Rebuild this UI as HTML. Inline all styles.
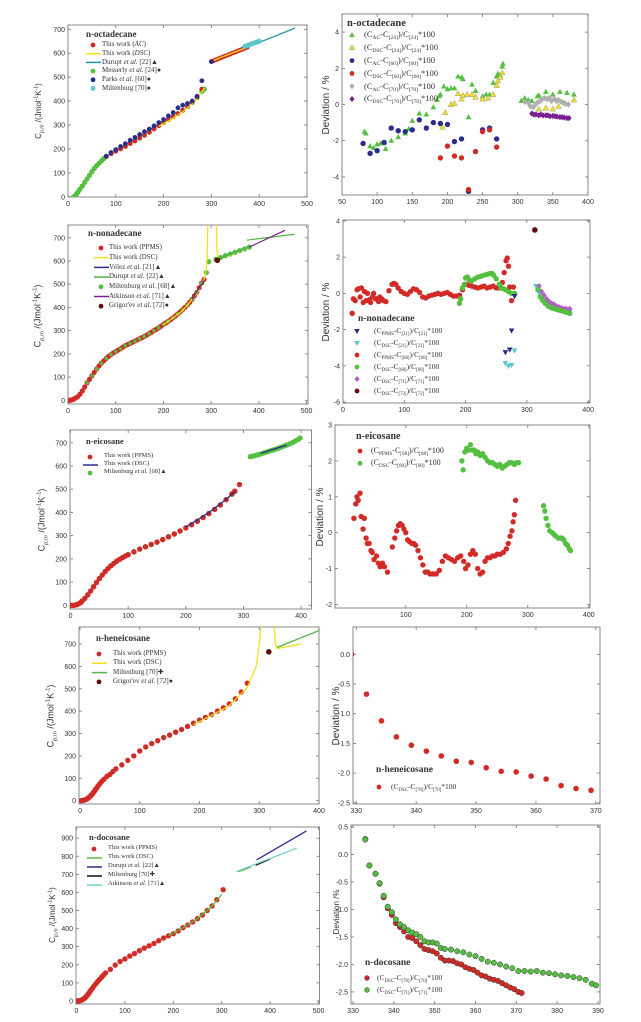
<!DOCTYPE html>
<html><head><meta charset="utf-8">
<style>
body{margin:0;background:#fff;}
#wrap{position:relative;width:641px;height:1022px;overflow:hidden;background:#fff;font-family:"Liberation Sans",sans-serif;}
.lg{position:absolute;font-family:"Liberation Serif",serif;color:#333;white-space:nowrap;line-height:1;}
.lg sub{font-size:65%;vertical-align:-2px;}
.ttl{position:absolute;font-family:"Liberation Serif",serif;font-weight:bold;color:#333;white-space:nowrap;line-height:1;}
.yl{position:absolute;font-family:"Liberation Sans",sans-serif;color:#333;white-space:nowrap;transform:translate(-50%,-50%) rotate(-90deg);line-height:1;}
.yl sub{font-size:65%;}
.yl sup{font-size:65%;}
</style></head>
<body>
<div id="wrap">
<svg id="svg" width="641" height="1022" viewBox="0 0 641 1022"></svg>
</div>
<script>
// ===== DATA =====
// Panel 1 left: n-octadecane Cp
const p1_mess = [[12,0],[15,5],[18,12],[21,20],[25,32],[30,45],[35,60],[40,75],[45,90],[50,105],[55,118],[60,130],[65,140],[70,150],[75,160],[80,168],[90,180],[100,192],[110,202],[120,212],[130,224],[140,235],[150,246],[160,258],[170,270],[180,285],[190,298],[200,312],[210,323],[220,335],[230,348],[240,362],[250,378],[260,395],[270,415],[280,440],[285,450]];
const p1_ac = [[80,168],[90,180],[100,190],[110,200],[120,210],[130,222],[140,233],[150,245],[160,257],[170,270],[180,283],[190,297],[200,310],[210,322],[220,334],[230,347],[240,361],[250,377],[260,394],[270,415],[280,450],[300,565],[305,569],[310,573],[315,577],[320,581],[325,585],[330,589],[335,593],[340,597],[345,601],[350,605],[355,609],[360,613],[365,617],[370,621],[375,625]];
const p1_dsc1 = [[190,295],[200,305],[220,328],[240,355],[260,388],[270,410],[280,438],[285,455]];
const p1_dsc2 = [[305,570],[340,598],[375,625]];
const p1_durupt = [[375,625],[475,705]];
const p1_parks = [[80,170],[90,185],[100,197],[110,210],[120,222],[130,236],[140,248],[150,260],[160,272],[170,283],[180,296],[190,310],[200,323],[210,338],[220,352],[230,372],[240,383],[250,390],[260,400],[270,420],[280,485],[300,565]];
const p1_milt = [[370,628],[375,632],[380,636],[385,640],[390,643],[395,647],[400,650]];
// Panel 1 right: deviations
const d1_g = [[82,-1.5],[84,-1.6],[90,-2.3],[95,-2.4],[100,-2.2],[105,-2.15],[110,-2.1],[112,-2.45],[120,-2.0],[130,-1.8],[140,-1.6],[145,-1.35],[150,-0.9],[160,-0.5],[170,-0.55],[180,-0.15],[185,0.25],[188,0.45],[190,0.55],[195,1.0],[200,0.85],[205,0.9],[210,0.9],[215,1.55],[220,1.5],[222,1.4],[230,-0.7],[235,1.1],[240,0.75],[250,0.45],[255,0.55],[260,0.55],[265,1.2],[270,1.55],[272,1.7],[275,1.6],[278,2.1],[279,2.25],[305,0.2],[310,0.35],[315,0.25],[320,0.2],[328,0.45],[330,0.5],[340,0.7],[350,0.55],[360,0.7],[370,0.65],[380,0.55]];
const d1_y = [[193,-1.25],[197,-0.45],[205,0.0],[210,0.05],[215,0.6],[220,0.3],[222,0.5],[228,0.55],[235,0.55],[240,0.4],[250,0.3],[258,0.35],[265,0.55],[270,1.05],[272,1.3],[275,1.5],[278,1.75],[330,-0.25],[340,-0.2],[350,-0.25],[358,-0.1],[380,0.25]];
const d1_b = [[80,-2.15],[90,-2.7],[100,-2.55],[110,-2.1],[120,-1.3],[130,-1.45],[140,-1.5],[150,-1.4],[160,-0.85],[170,-1.3],[180,-1.0],[190,-1.05],[200,-1.1],[210,-2.05],[220,-1.9],[230,-4.8],[250,-1.4],[260,-1.3],[270,-1.9]];
const d1_r = [[190,-2.95],[200,-2.3],[210,-2.85],[220,-2.95],[230,-4.7],[240,-2.6],[250,-1.5],[260,-1.4],[270,-2.35]];
const d1_gr = [[310,0.15],[315,0.1],[318,-0.1],[322,-0.15],[325,0.0],[328,0.1],[332,0.2],[335,0.3],[338,0.35],[342,0.3],[345,0.35],[348,0.2],[352,0.3],[355,0.2],[358,0.25],[362,0.15],[365,0.1],[368,0.05],[372,0.0]];
const d1_p = [[320,-0.5],[323,-0.55],[326,-0.55],[330,-0.6],[333,-0.55],[336,-0.6],[340,-0.6],[343,-0.6],[346,-0.65],[350,-0.63],[353,-0.65],[356,-0.67],[360,-0.7],[363,-0.7],[366,-0.72],[370,-0.75],[373,-0.75]];
// Panel 2 left: n-nonadecane
const p2_ppms = [[3,0],[5,0],[8,2],[10,3],[13,6],[16,10],[20,15],[25,26],[30,40],[35,57],[40,75],[45,90],[50,105],[55,120],[60,135],[65,148],[70,160],[75,170],[80,180],[85,189],[90,197],[95,204],[100,210],[105,216],[110,222],[115,229],[120,235],[125,240],[130,245],[135,250],[140,255],[145,260],[150,265],[155,270],[160,275],[165,281],[170,287],[175,293],[180,300],[185,306],[190,312],[195,319],[200,327],[205,333],[210,340],[215,347],[220,355],[225,363],[230,372],[235,381],[240,390],[245,400],[250,410],[255,422],[260,435],[265,450],[270,465],[275,485],[280,505],[285,520]];
const p2_dsc1 = [[200,325],[240,385],[270,460],[285,520],[290,560],[292,650],[293,760]];
const p2_dsc2 = [[311,760],[312,650],[315,610],[340,625],[380,660]];
const p2_velez = [[260,435],[285,515]];
const p2_dur1 = [[310,605],[380,662]];
const p2_dur2 = [[375,690],[475,715]];
const p2_milt = [[290,550],[295,597],[310,607],[320,615],[330,623],[340,630],[350,637],[360,645],[370,652],[380,660]];
const p2_atk = [[380,660],[455,732]];
const p2_grig = [[313,603]];
// Panel 2 right
const d2_ppms = [[15,-1.1],[17,-0.3],[20,-0.4],[23,0.2],[25,0.25],[28,-0.2],[30,0.3],[33,-0.5],[35,0.1],[38,-0.4],[40,0.0],[43,-0.35],[45,-0.5],[48,-0.2],[50,0.0],[53,-0.3],[55,-0.3],[58,-0.45],[60,-0.2],[63,-0.3],[66,-0.4],[70,-0.45],[75,0.15],[80,0.5],[83,0.55],[86,0.5],[90,0.3],[95,0.1],[100,0.0],[105,-0.05],[110,0.1],[115,0.25],[120,0.2],[125,0.05],[130,-0.2],[135,-0.25],[140,-0.15],[145,-0.1],[150,-0.05],[155,0.0],[160,-0.05],[165,0.0],[170,0.05],[175,-0.05],[180,-0.15],[185,-0.15],[190,-0.1],[195,0.2],[200,0.5],[205,0.45],[210,0.4],[215,0.35],[220,0.3],[225,0.35],[230,0.4],[235,0.3],[240,0.35],[245,0.4],[250,0.3],[255,0.3],[260,0.6],[263,1.15],[266,1.8],[268,1.95],[270,1.5],[272,0.35],[275,-0.4],[278,0.35]];
const d2_dsc68 = [[190,-0.55],[192,-0.3],[195,0.3],[198,0.5],[200,0.85],[203,0.9],[206,0.75],[210,0.7],[215,0.8],[220,0.9],[225,0.95],[230,1.0],[235,1.05],[240,1.1],[243,1.1],[246,1.0],[250,0.8],[255,0.5],[258,0.3],[262,0.25],[265,0.2],[270,0.1],[275,0.0],[280,0.0],[318,0.2],[322,-0.2],[326,-0.4],[330,-0.55],[335,-0.7],[340,-0.8],[345,-0.85],[350,-0.9],[355,-0.95],[360,-1.0],[365,-1.05],[370,-1.1]];
const d2_ppms21 = [[265,-3.25],[272,-3.1],[275,-2.05],[280,-0.15]];
const d2_dsc21 = [[265,-3.85],[270,-4.0],[275,-3.95],[280,-3.15],[315,0.4],[320,0.0],[325,-0.3],[330,-0.5],[335,-0.6],[340,-0.7],[345,-0.8],[350,-0.85],[355,-0.9],[360,-0.9],[365,-0.95],[370,-1.0]];
const d2_dsc71 = [[320,0.4],[324,0.1],[328,-0.1],[332,-0.3],[336,-0.45],[340,-0.55],[344,-0.6],[348,-0.7],[352,-0.75],[356,-0.8],[360,-0.85],[364,-0.85],[368,-0.9],[370,-0.85]];
const d2_dsc72 = [[313,3.5]];
// Panel 3 left: n-eicosane
const p3_ppms = [[2,0],[5,0],[8,1],[10,2],[13,5],[15,8],[18,12],[20,18],[25,30],[30,45],[35,62],[40,80],[45,98],[50,115],[55,130],[60,145],[65,158],[70,170],[75,180],[80,190],[85,198],[90,205],[95,212],[100,218],[110,230],[120,242],[130,252],[140,262],[150,272],[160,283],[170,295],[180,307],[190,320],[200,333],[210,347],[220,362],[230,378],[240,395],[250,413],[260,432],[270,455],[280,480],[285,492],[293,520]];
const p3_dsc1 = [[200,338],[220,367],[240,400],[260,437],[280,478],[285,490]];
const p3_dsc2 = [[330,655],[375,690]];
const p3_milt = [[10,2],[20,18],[30,45],[40,80],[50,115],[60,145],[70,170],[80,190],[90,205],[100,218],[110,230],[120,242],[130,252],[140,262],[150,272],[160,283],[170,295],[180,307],[190,320],[200,333],[210,347],[220,362],[230,378],[240,395],[250,413],[260,432],[270,455],[280,478],[285,490],[312,640],[316,642],[320,645],[325,648],[330,652],[335,656],[340,660],[345,664],[350,668],[355,672],[360,676],[365,681],[370,686],[375,690],[380,695],[385,701],[390,708],[395,714],[398,720]];
// Panel 3 right
const d3_ppms = [[15,0.4],[18,0.8],[20,1.0],[22,0.9],[25,1.1],[27,0.45],[30,0.1],[32,0.4],[35,-0.15],[37,-0.3],[40,-0.3],[43,-0.5],[45,-0.55],[48,-0.75],[52,-0.65],[55,-0.85],[58,-0.95],[62,-0.85],[65,-0.95],[70,-1.1],[78,-0.4],[82,-0.15],[85,0.05],[88,0.2],[91,0.25],[94,0.2],[97,0.1],[100,0.0],[103,-0.2],[106,-0.25],[110,-0.3],[113,-0.3],[116,-0.35],[120,-0.5],[124,-0.7],[128,-0.9],[132,-1.1],[136,-1.1],[140,-1.15],[145,-1.15],[150,-1.15],[155,-1.05],[160,-0.8],[165,-0.65],[170,-0.7],[175,-0.75],[180,-0.8],[185,-0.7],[190,-0.65],[195,-0.8],[198,-1.0],[202,-0.9],[206,-0.6],[210,-0.5],[214,-0.6],[218,-1.0],[222,-1.15],[226,-1.1],[230,-0.8],[234,-0.7],[238,-0.7],[242,-0.65],[246,-0.65],[250,-0.6],[255,-0.6],[260,-0.55],[265,-0.45],[268,-0.3],[271,-0.1],[274,0.05],[276,0.3],[278,0.5],[280,0.9]];
const d3_dsc = [[192,2.0],[194,1.75],[197,2.25],[200,2.35],[203,2.3],[206,2.45],[209,2.3],[212,2.3],[215,2.2],[218,2.25],[222,2.15],[226,2.2],[230,2.1],[234,2.0],[238,1.95],[242,1.95],[246,1.9],[250,1.85],[254,1.9],[258,1.8],[262,1.85],[266,1.9],[270,1.95],[274,1.95],[278,1.9],[282,1.95],[285,1.95],[326,0.75],[328,0.6],[330,0.4],[333,0.2],[336,0.05],[340,0.0],[343,-0.05],[346,-0.1],[350,-0.15],[353,-0.15],[356,-0.15],[359,-0.2],[362,-0.3],[365,-0.35],[368,-0.45],[370,-0.5]];
// Panel 4 left: n-heneicosane
const p4_ppms = [[2,0],[4,1],[6,2],[8,3],[10,5],[12,8],[14,12],[16,17],[18,22],[20,28],[22,35],[24,42],[26,50],[28,57],[30,65],[33,75],[36,85],[40,95],[45,108],[50,117],[55,130],[60,142],[70,160],[80,180],[90,200],[100,222],[110,240],[120,255],[130,268],[140,282],[150,293],[160,306],[170,318],[180,332],[190,346],[200,360],[210,372],[220,385],[230,400],[240,415],[250,432],[260,455],[270,485],[280,525]];
const p4_dsc1 = [[190,340],[220,380],[250,425],[280,505],[295,600],[300,700],[303,800]];
const p4_dsc2 = [[325,800],[327,700],[330,680],[370,700]];
const p4_milt = [[330,685],[400,760]];
const p4_grig = [[316,665]];
// Panel 4 right
const d4_dsc70 = [[329.2,0.0],[331.7,-0.67],[334.2,-1.12],[336.7,-1.39],[339.2,-1.53],[341.7,-1.63],[344.2,-1.71],[346.7,-1.8],[349.2,-1.82],[351.7,-1.91],[354.2,-1.97],[356.7,-1.98],[359.2,-2.05],[361.7,-2.1],[364.2,-2.21],[366.7,-2.26],[369.2,-2.29]];
// Panel 5 left: n-docosane
const p5_ppms = [[2,0],[4,0],[6,1],[8,2],[10,4],[12,7],[14,10],[16,14],[18,18],[20,24],[22,30],[24,37],[26,44],[28,52],[30,60],[33,70],[36,82],[40,95],[44,108],[48,120],[52,132],[56,143],[60,155],[70,175],[80,198],[90,218],[100,232],[110,248],[120,262],[130,278],[140,292],[150,305],[160,318],[170,333],[180,348],[190,360],[200,372],[210,387],[220,405],[230,420],[240,437],[250,455],[260,475],[270,500],[280,525],[290,560],[303,615]];
const p5_dsc1 = [[190,360],[220,405],[250,455],[280,525],[300,590]];
const p5_dsc2 = [[335,715],[360,740]];
const p5_dur = [[372,780],[475,940]];
const p5_milt = [[370,750],[400,785]];
const p5_atk = [[330,715],[455,845]];
// Panel 5 right
const d5_dsc70 = [[333,0.28],[334,-0.2],[335.5,-0.35],[336.5,-0.53],[337.5,-0.78],[338.5,-0.98],[339.5,-1.1],[340.5,-1.25],[341.5,-1.32],[342.5,-1.4],[343.5,-1.5],[344.5,-1.52],[345.5,-1.58],[346.5,-1.65],[347.5,-1.72],[348.5,-1.74],[349.5,-1.76],[350.5,-1.8],[351.5,-1.88],[352.5,-1.93],[353.5,-1.93],[354.5,-1.94],[355.5,-1.98],[356.5,-2.0],[357.5,-2.05],[358.5,-2.08],[359.5,-2.1],[360.5,-2.15],[361.5,-2.2],[362.5,-2.22],[363.5,-2.26],[364.5,-2.28],[365.5,-2.3],[366.5,-2.34],[367.5,-2.38],[368.5,-2.42],[369.5,-2.45],[370.5,-2.5],[371.3,-2.52]];
const d5_dsc71 = [[333,0.27],[334,-0.2],[335.5,-0.35],[336.5,-0.52],[337.5,-0.75],[338.5,-0.95],[339.5,-1.05],[340.5,-1.18],[341.5,-1.27],[342.5,-1.32],[343.5,-1.38],[344.5,-1.42],[345.5,-1.45],[346.5,-1.5],[347.5,-1.58],[348.5,-1.6],[349.5,-1.6],[350.5,-1.62],[351.5,-1.7],[352.5,-1.72],[354,-1.73],[355.5,-1.76],[357,-1.78],[358.5,-1.82],[360,-1.85],[361.5,-1.9],[363,-1.95],[364.5,-1.97],[366,-2.0],[367.5,-2.04],[369,-2.07],[370.5,-2.12],[372,-2.12],[373.5,-2.13],[375,-2.12],[376.5,-2.15],[378,-2.16],[379.5,-2.18],[381,-2.2],[382.5,-2.21],[384,-2.23],[385.5,-2.25],[387,-2.28],[388.5,-2.35],[389.5,-2.38]];
// Tick labels
const ticksCp500 = [0,100,200,300,400,500];
const ticksCp400 = [0,100,200,300,400];
const ticksY700 = [0,100,200,300,400,500,600,700];
const ticksY900 = [0,100,200,300,400,500,600,700,800,900];
const ticksD1x = [50,100,150,200,250,300,350,400];
const ticksD1y = [-4,-2,0,2,4];
const ticksD2y = [-6,-4,-2,0,2,4];
const ticksD3x = [100,200,300,400];
const ticksD3y = [-2,-1,0,1,2,3];
const ticksD4x = [330,340,350,360,370];
const ticksD4y = [0.0,-0.5,-1.0,-1.5,-2.0,-2.5];
const ticksD5x = [330,340,350,360,370,380,390];
const ticksD5y = [0.5,0.0,-0.5,-1.0,-1.5,-2.0,-2.5];

// ===== RENDERING =====
const NS='http://www.w3.org/2000/svg';
const svg=document.getElementById('svg');
const wrap=document.getElementById('wrap');
const C={red:'#d22a26',green:'#4fb848',blue:'#2a2d8c',yellow:'#f4e11c',teal:'#1b93a0',cyan:'#5ec8c8',purple:'#7a2090',dred:'#5e0e0e',grey:'#b0b0b0',black:'#111',lime:'#55c040',lteal:'#6fd0c0'};
function mk(tag,attrs,parent){const e=document.createElementNS(NS,tag);for(const k in attrs)e.setAttribute(k,attrs[k]);(parent||svg).appendChild(e);return e;}
function fmt(v,dec){return dec?v.toFixed(dec):String(v);}
function panel(name,box,xd,yd,xt,yt,dec){
  const [L,T,R,B]=box;
  const g=mk('g',{});
  
  
  const sx=v=>L+(v-xd[0])/(xd[1]-xd[0])*(R-L);
  const sy=v=>B-(v-yd[0])/(yd[1]-yd[0])*(B-T);
  const fr=mk('rect',{x:L,y:T,width:R-L,height:B-T,fill:'none',stroke:'#8a8a8a','stroke-width':1},g);
  
  
  xt.forEach(v=>{const x=sx(v);
    mk('line',{x1:x,y1:B,x2:x,y2:B-3,stroke:'#777','stroke-width':0.8},g);
    mk('line',{x1:x,y1:T,x2:x,y2:T+3,stroke:'#777','stroke-width':0.8},g);
    const t=mk('text',{x:x,y:B+9,'font-size':7,'text-anchor':'middle',fill:'#333','font-family':'Liberation Sans'},g);
    t.textContent=String(v);
    
    
  });
  yt.forEach(v=>{const y=sy(v);
    mk('line',{x1:L,y1:y,x2:L+3,y2:y,stroke:'#777','stroke-width':0.8},g);
    mk('line',{x1:R,y1:y,x2:R-3,y2:y,stroke:'#777','stroke-width':0.8},g);
    const t=mk('text',{x:L-3,y:y+2.5,'font-size':7,'text-anchor':'end',fill:'#333','font-family':'Liberation Sans'},g);
    t.textContent=fmt(v,dec);
    
    
  });
  const cp='clip_'+name;
  const cpe=mk('clipPath',{id:cp},g);mk('rect',{x:L,y:T,width:R-L,height:B-T},cpe);
  const dg=mk('g',{'clip-path':'url(#'+cp+')'},g);
  return {
    line(data,color,w,sname){const p=mk('polyline',{points:data.map(d=>sx(d[0])+','+sy(d[1])).join(' '),fill:'none',stroke:color,'stroke-width':w||1.4},dg);
      
      },
    pts(data,color,shape,r,sname,stroke){const sg=mk('g',{},dg);
      
      
      data.forEach(d=>{const x=sx(d[0]),y=sy(d[1]);let e;
        const st=stroke||'none';
        if(shape==='c')e=mk('circle',{cx:x,cy:y,r:r,fill:color,stroke:st,'stroke-width':0.5},sg);
        else if(shape==='t')e=mk('polygon',{points:`${x},${y-r*1.2} ${x-r*1.1},${y+r*0.8} ${x+r*1.1},${y+r*0.8}`,fill:color,stroke:st,'stroke-width':0.5},sg);
        else if(shape==='v')e=mk('polygon',{points:`${x},${y+r*1.2} ${x-r*1.1},${y-r*0.8} ${x+r*1.1},${y-r*0.8}`,fill:color,stroke:st,'stroke-width':0.5},sg);
        else e=mk('polygon',{points:`${x},${y-r*1.3} ${x+r*1.1},${y} ${x},${y+r*1.3} ${x-r*1.1},${y}`,fill:color,stroke:st,'stroke-width':0.5},sg);
      });}
  };
}
function html(cls,x,y,size,content,name){const d=document.createElement('div');d.className=cls;d.style.left=x+'px';d.style.top=y+'px';d.style.fontSize=size+'px';d.innerHTML=content;
  
  
  wrap.appendChild(d);return d;}
function ylabel(x,y,size,content,name){const d=html('yl',x,y,size,content,name);}
function legend(tx,ty,title,ix,txx,y0,dy,size,entries,name){
  html('ttl',tx,ty-6,size+2,title,name+'-title');
  entries.forEach((e,i)=>{const y=y0+i*dy;
    if(e.kind==='line'){const l=mk('line',{x1:ix-7,y1:y,x2:ix+8,y2:y,stroke:e.color,'stroke-width':1.5});
      
      }
    else{const r=2.4;let s;
      if(e.kind==='c')s=mk('circle',{cx:ix,cy:y,r:r,fill:e.color,stroke:e.stroke||'none','stroke-width':0.5});
      else if(e.kind==='t')s=mk('polygon',{points:`${ix},${y-3} ${ix-2.8},${y+2} ${ix+2.8},${y+2}`,fill:e.color,stroke:e.stroke||'none','stroke-width':0.5});
      else if(e.kind==='v')s=mk('polygon',{points:`${ix},${y+3} ${ix-2.8},${y-2} ${ix+2.8},${y-2}`,fill:e.color});
      else s=mk('polygon',{points:`${ix},${y-3} ${ix+2.6},${y} ${ix},${y+3} ${ix-2.6},${y}`,fill:e.color});
      
      }
    html('lg',txx,y-size*0.55,size,e.text,name+'-entry');
  });
}
const CPLBL='C<sub><i>p,m</i></sub> /(Jmol<sup>-1</sup>K<sup>-1</sup>)';

// ---- Panel 1 L
let P=panel('octadecane-cp',[68,25,307,197],[0,500],[-1,718],ticksCp500,ticksY700);
P.line(p1_durupt,C.teal,1.2,'durupt-line');
P.pts(p1_mess,C.lime,'c',2.6,'messerly-points');
P.pts(p1_ac,C.red,'c',2.4,'ac-points');
P.line(p1_dsc1,C.yellow,1.3,'dsc-line');P.line(p1_dsc2,C.yellow,1.3,'dsc-line-liquid');
P.pts(p1_parks,C.blue,'c',2.4,'parks-points');
P.pts(p1_milt,C.cyan,'c',2.6,'miltenburg-points');
ylabel(40,111,8,CPLBL,'y-axis-title');
legend(86,36,'n-octadecane',93,102,45,8.7,7,[
 {kind:'c',color:C.red,text:'This work (<i>AC</i>)'},
 {kind:'line',color:C.yellow,text:'This work (<i>DSC</i>)'},
 {kind:'line',color:C.teal,text:'Durupt <i>et al.</i> [22]▲'},
 {kind:'c',color:C.lime,text:'Messerly <i>et al.</i> [24]●'},
 {kind:'c',color:C.blue,text:'Parks <i>et al.</i> [60]●'},
 {kind:'c',color:C.cyan,text:'Miltenburg [70]●'}],'legend-octadecane');

// ---- Panel 1 R
P=panel('octadecane-deviation',[342,14,588,195],[50,400],[-5,5],ticksD1x,ticksD1y);
P.pts(d1_g,C.lime,'t',2.6,'ac-24-points');
P.pts(d1_y,C.yellow,'t',2.6,'dsc-24-points','#999');
P.pts(d1_b,C.blue,'c',2.7,'ac-60-points');
P.pts(d1_r,C.red,'c',2.7,'dsc-60-points');
P.pts(d1_gr,C.grey,'d',2.5,'ac-70-points');
P.pts(d1_p,C.purple,'d',2.4,'dsc-70-points');
ylabel(327,105,10,'Deviation / %','y-axis-title');
legend(347,25,'n-octadecane',352,364,35,12.8,8.5,[
 {kind:'t',color:C.lime,text:'(C<sub>AC</sub>-C<sub>[24]</sub>)/C<sub>[24]</sub>*100'},
 {kind:'t',color:C.yellow,stroke:'#999',text:'(C<sub>DSC</sub>-C<sub>[24]</sub>)/C<sub>[24]</sub>*100'},
 {kind:'c',color:C.blue,text:'(C<sub>AC</sub>-C<sub>[60]</sub>)/C<sub>[60]</sub>*100'},
 {kind:'c',color:C.red,text:'(C<sub>DSC</sub>-C<sub>[60]</sub>)/C<sub>[60]</sub>*100'},
 {kind:'d',color:C.grey,text:'(C<sub>AC</sub>-C<sub>[70]</sub>)/C<sub>[70]</sub>*100'},
 {kind:'d',color:C.purple,text:'(C<sub>DSC</sub>-C<sub>[70]</sub>)/C<sub>[70]</sub>*100'}],'legend-octadecane-dev');

// ---- Panel 2 L
P=panel('nonadecane-cp',[68,225,308,404],[0,503],[-16,755],ticksCp500,ticksY700);
P.pts(p2_ppms,C.red,'c',2.6,'ppms-points');
P.pts(p2_ppms.filter(d=>d[0]>=40&&d[0]%10===0),C.lime,'c',1.8,'miltenburg-solid-points');
P.pts(p2_milt,C.lime,'c',2.6,'miltenburg-points');
P.line(p2_dsc1,C.yellow,1.3,'dsc-line');P.line(p2_dsc2,C.yellow,1.3,'dsc-line-liquid');
P.line(p2_velez,C.blue,1.2,'velez-line');
P.line(p2_dur1,C.green,2.2,'durupt-line-1');P.line(p2_dur2,C.green,1.3,'durupt-line-2');
P.line(p2_atk,C.purple,1.2,'atkinson-line');
P.pts(p2_grig,C.dred,'c',2.8,'grigorev-point');
ylabel(40,316,9,CPLBL,'y-axis-title');
legend(88,235,'n-nonadecane',101,109,248,9.7,7,[
 {kind:'c',color:C.red,text:'This work (PPMS)'},
 {kind:'line',color:C.yellow,text:'This work (DSC)'},
 {kind:'line',color:C.blue,text:'Vélez <i>et al.</i> [21]▲'},
 {kind:'line',color:C.green,text:'Durupt <i>et al.</i> [22]▲'},
 {kind:'c',color:C.lime,text:'Miltenburg <i>et al.</i> [68]▲'},
 {kind:'line',color:C.purple,text:'Atkinson <i>et al.</i> [71]▲'},
 {kind:'c',color:C.dred,text:'Grigor\'ev <i>et al.</i> [72]●'}],'legend-nonadecane');

// ---- Panel 2 R
P=panel('nonadecane-deviation',[343,220,590,403],[0,403],[-6.05,4.05],ticksCp400,ticksD2y);
P.pts(d2_ppms,C.red,'c',2.7,'ppms-68-points');
P.pts(d2_dsc21,C.cyan,'v',2.6,'dsc-21-points');
P.pts(d2_dsc71,'#b060c0','d',2.4,'dsc-71-points');
P.pts(d2_dsc68,C.lime,'c',2.7,'dsc-68-points');
P.pts(d2_ppms21,C.blue,'v',2.6,'ppms-21-points');
P.pts(d2_dsc72,C.dred,'c',2.8,'dsc-72-point');
ylabel(327,312,10,'Deviation / %','y-axis-title');
legend(358,321,'n-nonadecane',357,374,331,12,7.5,[
 {kind:'v',color:C.blue,text:'(C<sub>PPMS</sub>-C<sub>[21]</sub>)/C<sub>[21]</sub>*100'},
 {kind:'v',color:C.cyan,text:'(C<sub>DSC</sub>-C<sub>[21]</sub>)/C<sub>[21]</sub>*100'},
 {kind:'c',color:C.red,text:'(C<sub>PPMS</sub>-C<sub>[68]</sub>)/C<sub>[68]</sub>*100'},
 {kind:'c',color:C.lime,text:'(C<sub>DSC</sub>-C<sub>[68]</sub>)/C<sub>[68]</sub>*100'},
 {kind:'d',color:'#b060c0',text:'(C<sub>DSC</sub>-C<sub>[71]</sub>)/C<sub>[71]</sub>*100'},
 {kind:'c',color:C.dred,text:'(C<sub>DSC</sub>-C<sub>[72]</sub>)/C<sub>[72]</sub>*100'}],'legend-nonadecane-dev');

// ---- Panel 3 L
P=panel('eicosane-cp',[70,430,311.5,609],[-0.9,418],[-16,755],ticksCp400,ticksY700);
P.pts(p3_milt,C.lime,'c',2.7,'miltenburg-points');
P.pts(p3_ppms,C.red,'c',2.7,'ppms-points');
P.line(p3_dsc1,C.blue,1.3,'dsc-line');P.line(p3_dsc2,C.blue,1.3,'dsc-line-liquid');
ylabel(44,520,9,CPLBL,'y-axis-title');
legend(86,443,'n-eicosane',90,104,457,8,6.5,[
 {kind:'c',color:C.red,text:'This work (PPMS)'},
 {kind:'line',color:C.blue,text:'This work (DSC)'},
 {kind:'c',color:C.lime,text:'Miltenburg <i>et al.</i> [68]▲'}],'legend-eicosane');

// ---- Panel 3 R
P=panel('eicosane-deviation',[335,425,590,608],[-16,402],[-2.1,3.0],ticksD3x,ticksD3y);
P.pts(d3_ppms,C.red,'c',2.7,'ppms-68-points');
P.pts(d3_dsc,C.lime,'c',2.7,'dsc-68-points');
ylabel(321,517,10,'Deviation / %','y-axis-title');
legend(356,438,'n-eicosane',360,371,451,12.3,8,[
 {kind:'c',color:C.red,text:'(C<sub>PPMS</sub>-C<sub>[68]</sub>)/C<sub>[68]</sub>*100'},
 {kind:'c',color:C.lime,text:'(C<sub>DSC</sub>-C<sub>[68]</sub>)/C<sub>[68]</sub>*100'}],'legend-eicosane-dev');

// ---- Panel 4 L
P=panel('heneicosane-cp',[79,627,319,804],[-1.7,400],[-15,776],ticksCp400,ticksY700);
P.pts(p4_ppms,C.red,'c',2.7,'ppms-points');
P.line(p4_dsc1,C.yellow,1.3,'dsc-line');P.line(p4_dsc2,C.yellow,1.3,'dsc-line-liquid');
P.line(p4_milt,C.green,1.3,'miltenburg-line');
P.pts(p4_grig,C.dred,'c',2.8,'grigorev-point');
ylabel(53,716,9,CPLBL,'y-axis-title');
legend(96,640,'n-heneicosane',99,113,654,9.3,7,[
 {kind:'c',color:C.red,text:'This work (PPMS)'},
 {kind:'line',color:C.yellow,text:'This work (DSC)'},
 {kind:'line',color:C.green,text:'Miltenburg [70]✚'},
 {kind:'c',color:C.dred,text:'Grigor\'ev <i>et al.</i> [72]●'}],'legend-heneicosane');

// ---- Panel 4 R
P=panel('heneicosane-deviation',[353,627,600,804],[329.45,370.7],[-2.52,0.46],ticksD4x,ticksD4y,1);
P.pts(d4_dsc70,C.red,'c',2.8,'dsc-70-points');
ylabel(337,716,10,'Deviation / %','y-axis-title');
legend(376,772,'n-heneicosane',379,391,787,12,7.5,[
 {kind:'c',color:C.red,text:'(C<sub>DSC</sub>-C<sub>[70]</sub>)/C<sub>[70]</sub>*100'}],'legend-heneicosane-dev');

// ---- Panel 5 L
P=panel('docosane-cp',[76,827,319.5,1004],[-1,502],[-17,962],ticksCp500,ticksY900);
P.pts(p5_ppms,C.red,'c',2.7,'ppms-points');
P.line(p5_dsc1,C.lime,1.3,'dsc-line');P.line(p5_dsc2,C.lime,1.3,'dsc-line-liquid');
P.line(p5_dur,C.blue,1.3,'durupt-line');
P.line(p5_milt,C.black,1.3,'miltenburg-line');
P.line(p5_atk,C.lteal,1.2,'atkinson-line');
ylabel(54,915,8,CPLBL,'y-axis-title');
legend(89,839,'n-docosane',94,108,849,9,6.5,[
 {kind:'c',color:C.red,text:'This work (PPMS)'},
 {kind:'line',color:C.lime,text:'This work (DSC)'},
 {kind:'line',color:C.blue,text:'Durupt <i>et al.</i> [22]▲'},
 {kind:'line',color:C.black,text:'Miltenburg [70]✚'},
 {kind:'line',color:C.lteal,text:'Atkinson <i>et al.</i> [71]▲'}],'legend-docosane');

// ---- Panel 5 R
P=panel('docosane-deviation',[351,825,600,1004],[329.5,390.5],[-2.72,0.536],ticksD5x,ticksD5y,1);
P.pts(d5_dsc70,C.red,'c',2.7,'dsc-70-points','#333');
P.pts(d5_dsc71,C.lime,'c',2.7,'dsc-71-points','#333');
ylabel(337,912,8,'Deviation /%','y-axis-title');
legend(365,965,'n-docosane',367,377,978,12,7.5,[
 {kind:'c',color:C.red,stroke:'#333',text:'(C<sub>DSC</sub>-C<sub>[70]</sub>)/C<sub>[70]</sub>*100'},
 {kind:'c',color:C.lime,stroke:'#333',text:'(C<sub>DSC</sub>-C<sub>[71]</sub>)/C<sub>[71]</sub>*100'}],'legend-docosane-dev');
</script>
</body></html>
